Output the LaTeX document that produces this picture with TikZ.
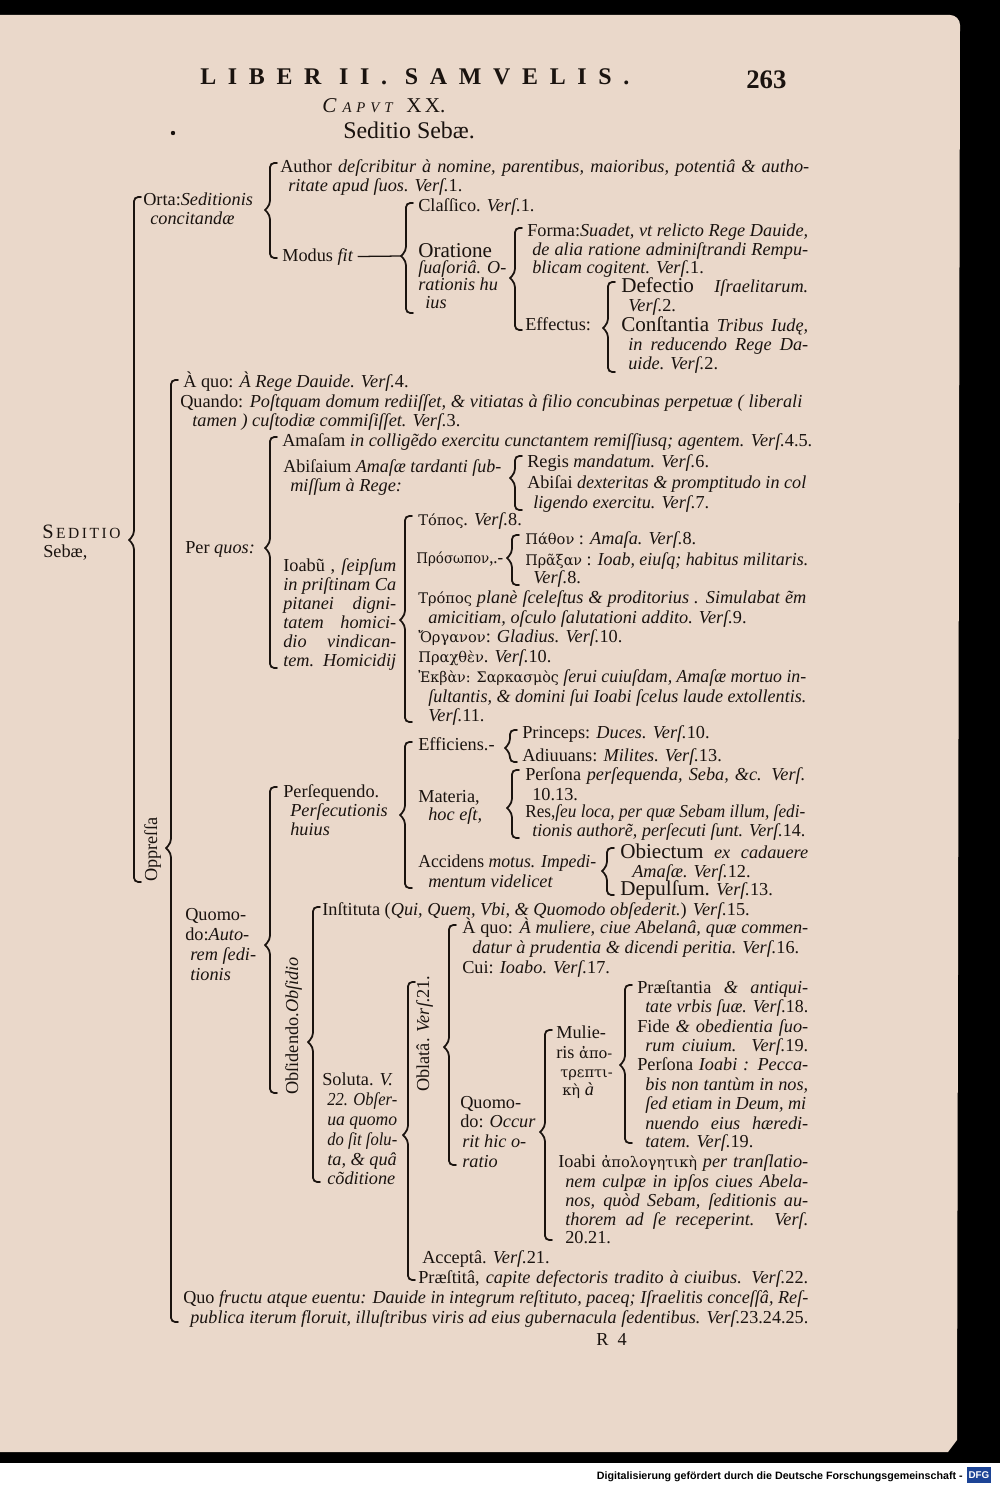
\documentclass[tikz,border=0pt]{standalone}
\usepackage{fontspec}
\usepackage{graphicx}
\setmainfont{Liberation Serif}
\newfontfamily\grk{DejaVu Serif}[Scale=0.8]
\newfontfamily\spaced{Liberation Serif}[LetterSpace=49]
\newfontfamily\foot{Liberation Sans}
\usetikzlibrary{calc}

\definecolor{paper}{RGB}{234,216,202}
\definecolor{ink}{RGB}{26,19,15}
\definecolor{dfgblue}{RGB}{28,68,150}

\newlength\pxu
\setlength\pxu{0.025cm}
\newsavebox\linebox
% a justified line of the page, w pixels wide
\newcommand{\full}[2]{\sbox\linebox{#2}%
  \ifdim\wd\linebox>#1\pxu\resizebox{#1\pxu}{\height}{\usebox\linebox}%
  \else\makebox[#1\pxu][s]{#2}\fi}
% a line kept within w pixels
\newcommand{\fitw}[2]{\sbox\linebox{#2}%
  \ifdim\wd\linebox>#1\pxu\resizebox{#1\pxu}{\height}{\usebox\linebox}%
  \else\usebox\linebox\fi}
\newcommand{\fs}{\fontsize{13}{15}\selectfont}
\newcommand{\bg}{\fontsize{15}{16}\selectfont}

\tikzset{%
  txt/.style={anchor=base west, inner sep=0pt, text=ink, font=\fs},
  rot/.style={txt, rotate=90},
  brk/.style={draw=ink, line width=1.25pt, rounded corners=3pt, line cap=round},
}
% brace: name, x, top, bottom, tip
\newcommand{\brak}[5]{%
  \coordinate (#1t) at (#2+7,#3);
  \coordinate (#1b) at (#2+7,#4);
  \coordinate (#1m) at (#2-5,#5);
  \draw[brk] (#1t) -| ($(#1m)+(5,-5)$) -- (#1m);
  \draw[brk] (#1m) -- ($(#1m)+(5,5)$) |- (#1b);
}

\begin{document}
\begin{tikzpicture}[x=0.025cm,y=-0.025cm]
\useasboundingbox (0,0) rectangle (1000,1485);
\fill[black] (0,0) rectangle (1000,1463);
\fill[paper] (0,15) -- (950,15) to[out=0,in=90] (960,25) -- (957,1440) -- (948,1452) -- (0,1452) -- cycle;
\fill[white] (0,1463) rectangle (1000,1485);

% head of the page
\node[txt, font=\spaced\bfseries\fontsize{17}{18}\selectfont] (hdr) at (200,85) {LIBER II. SAMVELIS.};
\node[txt, font=\bfseries\fontsize{19}{20}\selectfont] (pag) at (746,89) {263};
\node[txt] (cap) at (322,112) {{\itshape\fontsize{15}{16}\selectfont C}{\itshape\fontsize{10.5}{12}\selectfont\, A\,\,P\,\,V\,\,T}\ \ \ {\fontsize{15}{16}\selectfont X\,X.}};
\node[txt, font=\fontsize{17}{18}\selectfont] (tit) at (343,138) {Seditio Sebæ.};
\fill[ink] (173,133) circle (2.2);

% root
\node[txt] (sed1) at (42,538) {{\fontsize{14.5}{15}\selectfont S}{\fontsize{11}{12}\selectfont\,E\,D\,I\,T\,I\,O}};
\node[txt] (sed2) at (43,557) {Sebæ,};
\brak{A}{134}{197}{882}{540}

% Orta
\node[txt] (orta1) at (143,205) {Orta:\textit{Seditionis}};
\node[txt] (orta2) at (150,224) {\textit{concitandæ}};
\brak{B}{270}{163}{258}{210}
\node[txt] (auth1) at (280,172) {\full{529}{Author \textit{deſcribitur à nomine, parentibus, maioribus, potentiâ \& autho-}}};
\node[txt] (auth2) at (288,191) {\textit{ritate apud ſuos. Verſ.}1.};
\node[txt] (modus) at (282,261) {Modus \textit{fit}};
\brak{C}{406}{203}{313}{256}
\draw[ink, line width=0.9pt] ([xshift=3pt]modus.east) -- (Cm);
\node[txt] (clas) at (418,211) {Claſſico. \textit{Verſ.}1.};
\node[txt] (orat1) at (418,257) {{\bg Oratione}};
\node[txt] (orat2) at (418,273) {\fitw{88}{\textit{ſuaſoriâ. O-}}};
\node[txt] (orat3) at (418,290) {\textit{rationis hu}};
\node[txt] (orat4) at (425,308) {\textit{ius}};
\brak{D}{515}{228}{330}{278}
\node[txt] (form1) at (527,236) {\full{281}{Forma:\textit{Suadet, vt relicto Rege Dauide,}}};
\node[txt] (form2) at (532,255) {\full{276}{\textit{de alia ratione adminiſtrandi Rempu-}}};
\node[txt] (form3) at (532,273) {\textit{blicam cogitent. Verſ.}1.};
\node[txt] (effe) at (525,330) {Effectus:};
\brak{E}{608}{282}{372}{328}
\node[txt] (def1) at (621,292) {\full{187}{{\bg Defectio} \textit{Iſraelitarum.}}};
\node[txt] (def2) at (628,311) {\textit{Verſ.}2.};
\node[txt] (con1) at (621,331) {\full{187}{{\bg Conſtantia} \textit{Tribus Iudę,}}};
\node[txt] (con2) at (628,350) {\full{180}{\textit{in reducendo Rege Da-}}};
\node[txt] (con3) at (628,369) {\textit{uide. Verſ.}2.};

% Oppressa
\node[rot] (opp) at (157,882) {Oppreſſa};
\brak{F}{171}{380}{1322}{848}
\node[txt] (aquo) at (183,387) {À quo: \textit{À Rege Dauide. Verſ.}4.};
\node[txt] (quan1) at (180,407) {\full{622}{Quando: \textit{Poſtquam domum rediiſſet, \& vitiatas à filio concubinas perpetuæ ( liberali}}};
\node[txt] (quan2) at (192,426) {\textit{tamen ) cuſtodiæ commiſiſſet. Verſ.}3.};
\node[txt] (perq) at (185,553) {Per \textit{quos:}};
\brak{G}{270}{437}{668}{548}
\node[txt] (amas) at (282,446) {\full{530}{Amaſam \textit{in colligẽdo exercitu cunctantem remiſſiusq; agentem. Verſ.}4.5.}};
\node[txt] (abis1) at (283,472) {\fitw{218}{Abiſaium \textit{Amaſæ tardanti ſub-}}};
\node[txt] (abis2) at (290,491) {\textit{miſſum à Rege:}};
\brak{H}{515}{456}{510}{478}
\node[txt] (reg) at (527,467) {Regis \textit{mandatum. Verſ.}6.};
\node[txt] (abi1) at (527,488) {\full{279}{Abiſai \textit{dexteritas \& promptitudo in col}}};
\node[txt] (abi2) at (533,508) {\textit{ligendo exercitu. Verſ.}7.};
\node[txt] (ioab1) at (283,571) {\full{113}{Ioabũ , \textit{ſeipſum}}};
\node[txt] (ioab2) at (283,590) {\full{113}{\textit{in priſtinam Ca}}};
\node[txt] (ioab3) at (283,609) {\full{113}{\textit{pitanei digni-}}};
\node[txt] (ioab4) at (283,628) {\full{113}{\textit{tatem homici-}}};
\node[txt] (ioab5) at (283,647) {\full{113}{\textit{dio vindican-}}};
\node[txt] (ioab6) at (283,666) {\full{113}{\textit{tem. Homicidij}}};
\brak{I}{405}{516}{722}{620}
\node[txt] (topo) at (418,525) {{\grk Τόπος}. \textit{Verſ.}8.};
\node[txt] (pros) at (416,563) {\fitw{87}{{\grk Πρόσωπον},.-}};
\brak{J}{512}{535}{585}{558}
\node[txt] (path) at (525,544) {{\grk Πάθον} : \textit{Amaſa. Verſ.}8.};
\node[txt] (pra1) at (525,565) {\full{283}{{\grk Πρᾶξαν} : \textit{Ioab, eiuſq; habitus militaris.}}};
\node[txt] (pra2) at (533,583) {\textit{Verſ.}8.};
\node[txt] (tro1) at (418,603) {\full{388}{{\grk Τρόπος} \textit{planè ſceleſtus \& proditorius . Simulabat ẽm}}};
\node[txt] (tro2) at (428,623) {\textit{amicitiam, oſculo ſalutationi addito. Verſ.}9.};
\node[txt] (orga) at (418,642) {{\grk Ὄργανον}: \textit{Gladius. Verſ.}10.};
\node[txt] (prax) at (418,662) {{\grk Πραχθὲν}. \textit{Verſ.}10.};
\node[txt] (ekb1) at (418,682) {\full{388}{{\grk Ἐκβὰν: Σαρκασμὸς} \textit{ſerui cuiuſdam, Amaſæ mortuo in-}}};
\node[txt] (ekb2) at (428,702) {\full{378}{\textit{ſultantis, \& domini ſui Ioabi ſcelus laude extollentis.}}};
\node[txt] (ekb3) at (428,721) {\textit{Verſ.}11.};

% Quomodo
\node[txt] (quo1) at (185,920) {Quomo-};
\node[txt] (quo2) at (185,940) {\fitw{74}{do:\textit{Auto-}}};
\node[txt] (quo3) at (190,960) {\fitw{69}{\textit{rem ſedi-}}};
\node[txt] (quo4) at (190,980) {\textit{tionis}};
\brak{L}{270}{787}{1093}{945}
\node[txt] (pers1) at (283,797) {Perſequendo.};
\node[txt] (pers2) at (290,816) {\textit{Perſecutionis}};
\node[txt] (pers3) at (290,835) {\textit{huius}};
\brak{M}{405}{742}{888}{815}
\node[txt] (effi) at (418,750) {\fitw{83}{Efficiens.-}};
\brak{N}{510}{730}{762}{748}
\node[txt] (prin) at (522,738) {Princeps: \textit{Duces. Verſ.}10.};
\node[txt] (adiu) at (522,761) {Adiuuans: \textit{Milites. Verſ.}13.};
\node[txt] (mat1) at (418,802) {Materia,};
\node[txt] (mat2) at (428,820) {\textit{hoc eſt,}};
\brak{O}{512}{770}{838}{808}
\node[txt] (prs1) at (525,780) {\full{280}{Perſona \textit{perſequenda, Seba, \&c. Verſ.}}};
\node[txt] (prs2) at (532,800) {10.13.};
\node[txt] (res1) at (525,817) {\full{280}{Res,\textit{ſeu loca, per quæ Sebam illum, ſedi-}}};
\node[txt] (res2) at (532,836) {\full{273}{\textit{tionis authorẽ, perſecuti ſunt. Verſ.}14.}};
\node[txt] (acc1) at (418,867) {\fitw{178}{Accidens \textit{motus. Impedi-}}};
\node[txt] (acc2) at (428,887) {\textit{mentum videlicet}};
\brak{P}{607}{848}{895}{871}
\node[txt] (obi1) at (620,858) {\full{188}{{\bg Obiectum} \textit{ex cadauere}}};
\node[txt] (obi2) at (632,877) {\textit{Amaſæ. Verſ.}12.};
\node[txt] (dep) at (620,895) {{\bg Depulſum.} \textit{Verſ.}13.};

% Obsidendo
\node[rot] (obs) at (298,1095) {Obſidendo.\textit{Obſidio}};
\brak{Q}{313}{907}{1182}{1042}
\node[txt] (inst) at (322,915) {Inſtituta (\textit{Qui, Quem, Vbi, \& Quomodo obſederit.}) \textit{Verſ.}15.};
\node[txt] (sol1) at (322,1085) {\fitw{75}{Soluta. \textit{V.}}};
\node[txt] (sol2) at (327,1105) {\fitw{70}{\textit{22. Obſer-}}};
\node[txt] (sol3) at (327,1125) {\fitw{70}{\textit{ua quomo}}};
\node[txt] (sol4) at (327,1145) {\fitw{70}{\textit{do ſit ſolu-}}};
\node[txt] (sol5) at (327,1165) {\fitw{70}{\textit{ta, \& quâ}}};
\node[txt] (sol6) at (327,1184) {\fitw{70}{\textit{cõditione}}};
\brak{R}{408}{982}{1280}{1135}
\node[rot] (obl) at (429,1092) {Oblatâ. \textit{Verſ.}21.};
\brak{S}{449}{925}{1165}{1047}
\node[txt] (aq1) at (462,933) {\full{346}{À quo: \textit{À muliere, ciue Abelanâ, quæ commen-}}};
\node[txt] (aq2) at (472,953) {\textit{datur à prudentia \& dicendi peritia. Verſ.}16.};
\node[txt] (cui) at (462,973) {Cui: \textit{Ioabo. Verſ.}17.};
\node[txt] (qm1) at (460,1108) {Quomo-};
\node[txt] (qm2) at (460,1127) {\fitw{76}{do: \textit{Occur}}};
\node[txt] (qm3) at (462,1147) {\fitw{74}{\textit{rit hic o-}}};
\node[txt] (qm4) at (462,1167) {\textit{ratio}};
\brak{T}{545}{1030}{1240}{1132}
\node[txt] (mul1) at (556,1038) {Mulie-};
\node[txt] (mul2) at (556,1058) {\fitw{57}{ris {\grk ἀπο-}}};
\node[txt] (mul3) at (560,1077) {\fitw{53}{{\grk τρεπτι-}}};
\node[txt] (mul4) at (562,1095) {{\grk κὴ} \textit{à}};
\brak{U}{625}{985}{1143}{1065}
\node[txt] (pst1) at (637,993) {\full{171}{Præſtantia \textit{\& antiqui-}}};
\node[txt] (pst2) at (645,1012) {\full{163}{\textit{tate vrbis ſuæ. Verſ.}18.}};
\node[txt] (fid1) at (637,1032) {\full{171}{Fide \textit{\& obedientia ſuo-}}};
\node[txt] (fid2) at (645,1051) {\full{163}{\textit{rum ciuium. Verſ.}19.}};
\node[txt] (pio1) at (637,1070) {\full{171}{Perſona \textit{Ioabi : Pecca-}}};
\node[txt] (pio2) at (645,1090) {\full{163}{\textit{bis non tantùm in nos,}}};
\node[txt] (pio3) at (645,1109) {\full{161}{\textit{ſed etiam in Deum, mi}}};
\node[txt] (pio4) at (645,1129) {\full{163}{\textit{nuendo eius hæredi-}}};
\node[txt] (pio5) at (645,1147) {\textit{tatem. Verſ.}19.};
\node[txt] (iob1) at (558,1167) {\full{250}{Ioabi {\grk ἀπολογητικὴ} \textit{per tranſlatio-}}};
\node[txt] (iob2) at (565,1187) {\full{243}{\textit{nem culpæ in ipſos ciues Abela-}}};
\node[txt] (iob3) at (565,1206) {\full{243}{\textit{nos, quòd Sebam, ſeditionis au-}}};
\node[txt] (iob4) at (565,1225) {\full{243}{\textit{thorem ad ſe receperint. Verſ.}}};
\node[txt] (iob5) at (565,1243) {20.21.};
\node[txt] (acce) at (422,1263) {Acceptâ. \textit{Verſ.}21.};
\node[txt] (prae) at (418,1283) {\full{390}{Præſtitâ, \textit{capite defectoris tradito à ciuibus. Verſ.}22.}};

% Quo fructu
\node[txt] (fru1) at (183,1303) {\full{625}{Quo \textit{fructu atque euentu: Dauide in integrum reſtituto, paceq; Iſraelitis conceſſâ, Reſ-}}};
\node[txt] (fru2) at (190,1323) {\full{618}{\textit{publica iterum floruit, illuſtribus viris ad eius gubernacula ſedentibus. Verſ.}23.24.25.}};
\node[txt] (sig) at (596,1345) {R\ \ 4};

% foot of the scan
\node[anchor=base east, inner sep=0pt, font=\foot\bfseries\fontsize{7.6}{8}\selectfont] (ftr) at (963,1479) {Digitalisierung gefördert durch die Deutsche Forschungsgemeinschaft -};
\node[fill=dfgblue, text=white, inner sep=1pt, minimum width=0.55cm, minimum height=0.42cm, font=\foot\bfseries\fontsize{7}{8}\selectfont] (dfg) at (979,1475) {DFG};
\end{tikzpicture}
\end{document}
